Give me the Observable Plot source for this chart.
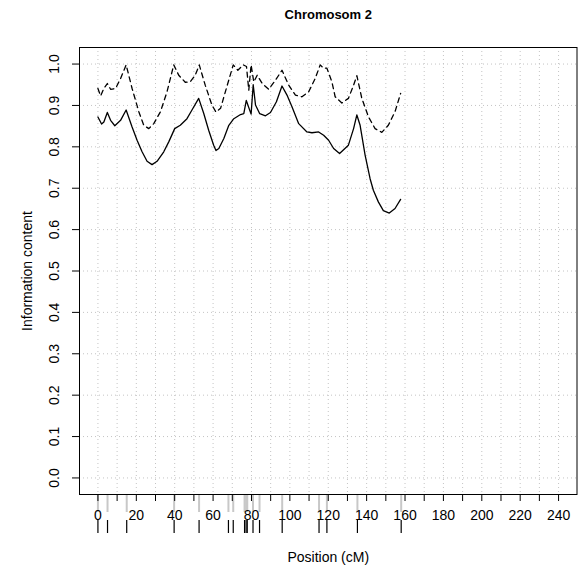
<!DOCTYPE html>
<html>
<head>
<meta charset="utf-8">
<script src="https://cdn.jsdelivr.net/npm/d3@7"></script>
<script src="https://cdn.jsdelivr.net/npm/@observablehq/plot@0.6"></script>
<style>
  html, body { margin: 0; padding: 0; background: #fff; }
  svg { display: block; }
</style>
</head>
<body>
<div id="chart"></div>
<script>
// ---- text ----
const title = "Chromosom 2";
const xLabel = "Position (cM)";
const yLabel = "Information content";

// ---- axes ----
const xTicks = [0, 10, 20, 30, 40, 50, 60, 70, 80, 90, 100, 110, 120, 130, 140, 150, 160, 170, 180, 190, 200, 210, 220, 230, 240];
const xTickLabels = ["0", "", "20", "", "40", "", "60", "", "80", "", "100", "", "120", "", "140", "", "160", "", "180", "", "200", "", "220", "", "240"];
const yTicks = [0, 0.1, 0.2, 0.3, 0.4, 0.5, 0.6, 0.7, 0.8, 0.9, 1.0];
const yTickLabels = ["0.0", "0.1", "0.2", "0.3", "0.4", "0.5", "0.6", "0.7", "0.8", "0.9", "1.0"];

// ---- marker positions (rug) ----
const markerPos = [0, 5, 15, 39.7, 52.7, 68, 70.5, 76.4, 77.2, 77.8, 80.8, 84.2, 96, 115.2, 119.3, 135.2, 158];

// ---- solid series ----
const solidPos = [0, 1.9, 3.1, 4.9, 6.6, 8.8, 11.8, 14.7, 17.8, 20.4, 23.0, 25.6, 28.2, 30.8, 34.3, 36.9, 40.0, 42.9, 46.4, 49.0, 52.5, 55.1, 57.7, 60.3, 61.5, 63.0, 65.6, 68.2, 70.8, 74.3, 76.0, 77.3, 79.8, 80.9, 82.1, 84.3, 87.3, 89.9, 93.0, 95.9, 98.5, 101.1, 104.6, 108.9, 111.5, 115.0, 117.6, 120.2, 122.8, 125.9, 130.5, 133.2, 134.9, 136.6, 139.2, 141.8, 143.5, 146.1, 148.7, 151.8, 154.8, 157.7];
const solidVal = [0.872, 0.855, 0.860, 0.883, 0.864, 0.851, 0.864, 0.889, 0.848, 0.816, 0.788, 0.765, 0.757, 0.765, 0.788, 0.812, 0.844, 0.852, 0.868, 0.889, 0.917, 0.881, 0.840, 0.804, 0.791, 0.796, 0.820, 0.852, 0.868, 0.878, 0.880, 0.912, 0.879, 0.950, 0.901, 0.880, 0.875, 0.883, 0.909, 0.947, 0.925, 0.897, 0.856, 0.836, 0.834, 0.836, 0.828, 0.816, 0.796, 0.784, 0.804, 0.844, 0.877, 0.852, 0.780, 0.723, 0.695, 0.667, 0.646, 0.640, 0.651, 0.673];

// ---- dashed series ----
const dashedPos = [0, 1.4, 3.1, 4.9, 6.6, 9.2, 11.8, 14.7, 17.8, 21.3, 23.9, 26.5, 29.1, 32.6, 36.0, 39.5, 42.1, 45.5, 48.1, 50.7, 52.8, 55.9, 59.4, 61.5, 63.9, 67.4, 70.5, 72.9, 75.7, 77.4, 78.6, 79.8, 81.2, 83.0, 85.6, 89.0, 92.5, 95.9, 99.4, 102.9, 106.3, 109.8, 113.2, 115.8, 117.6, 119.3, 121.9, 123.6, 127.1, 130.5, 133.2, 134.9, 137.5, 141.0, 144.4, 147.9, 151.3, 154.8, 157.7];
const dashedVal = [0.941, 0.923, 0.941, 0.953, 0.939, 0.941, 0.965, 0.998, 0.941, 0.885, 0.852, 0.844, 0.856, 0.885, 0.933, 0.998, 0.973, 0.956, 0.957, 0.973, 0.998, 0.949, 0.901, 0.884, 0.893, 0.949, 0.998, 0.985, 0.998, 0.994, 0.937, 0.998, 0.957, 0.973, 0.953, 0.939, 0.961, 0.985, 0.949, 0.925, 0.921, 0.933, 0.965, 0.998, 0.990, 0.990, 0.957, 0.921, 0.906, 0.917, 0.949, 0.972, 0.917, 0.872, 0.844, 0.835, 0.852, 0.885, 0.929];

const solid = solidPos.map((x, i) => ({x, y: solidVal[i]}));
const dashed = dashedPos.map((x, i) => ({x, y: dashedVal[i]}));

const font = "'Liberation Sans', Arial, Helvetica, sans-serif";
const gridStyle = {stroke: "#c4c4c4", strokeOpacity: 1, strokeWidth: 1, strokeDasharray: "1,3"};

const chart = Plot.plot({
  width: 578,
  height: 572,
  marginLeft: 79,
  marginRight: 1.5,
  marginTop: 47,
  marginBottom: 78,
  style: {fontFamily: font, fontSize: "14px", background: "#fff", color: "#000"},
  x: {domain: [-9.6, 249.6]},
  y: {domain: [-0.04, 1.04]},
  marks: [
    Plot.gridX(xTicks, gridStyle),
    Plot.gridY(yTicks, gridStyle),
    Plot.tickX(markerPos, {x: d => d, stroke: "#c8c8c8", strokeWidth: 2, insetTop: 447, insetBottom: -18}),
    Plot.tickX(markerPos, {x: d => d, stroke: "#000", strokeWidth: 1.2, insetTop: 473, insetBottom: -39}),
    Plot.axisX({
      ticks: xTicks,
      tickSize: 7,
      tickPadding: 9,
      tickFormat: d => xTickLabels[xTicks.indexOf(d)],
      label: null,
      fontSize: 14,
      stroke: "#000"
    }),
    Plot.axisY({
      ticks: yTicks,
      tickSize: 7,
      tickRotate: -90,
      textAnchor: "middle",
      lineAnchor: "middle",
      tickPadding: 17.5,
      tickFormat: d => yTickLabels[yTicks.indexOf(d)],
      label: null,
      fontSize: 14,
      stroke: "#000"
    }),
    Plot.line(dashed, {x: "x", y: "y", stroke: "#000", strokeWidth: 1.3, strokeDasharray: "5,4"}),
    Plot.line(solid, {x: "x", y: "y", stroke: "#000", strokeWidth: 1.3}),
    Plot.frame({stroke: "#000", strokeWidth: 1}),
    Plot.text([title], {text: d => d, frameAnchor: "top", dy: -33, lineAnchor: "middle", textAnchor: "middle", fontWeight: "bold", fontSize: 13}),
    Plot.text([xLabel], {text: d => d, frameAnchor: "bottom", dy: 63, lineAnchor: "middle", textAnchor: "middle", fontSize: 14}),
    Plot.text([yLabel], {text: d => d, frameAnchor: "left", dx: -52, rotate: -90, lineAnchor: "middle", textAnchor: "middle", fontSize: 14})
  ]
});

document.getElementById("chart").appendChild(chart);
</script>
</body>
</html>
